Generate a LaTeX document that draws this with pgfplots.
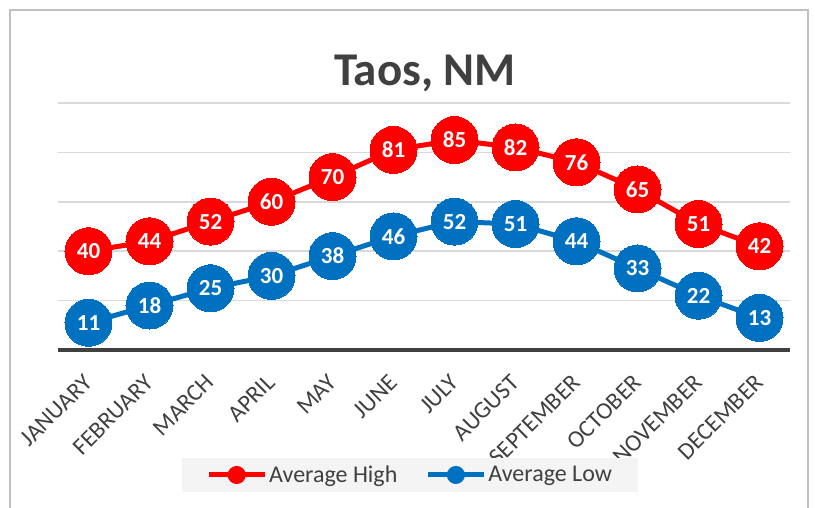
\documentclass[border=0pt]{standalone}
\usepackage{fontspec}
\setmainfont{Carlito}
\usepackage{pgfplots}
\pgfplotsset{compat=1.18}
\definecolor{hi}{HTML}{FF0000}
\definecolor{lo}{HTML}{0070C0}
\definecolor{txt}{HTML}{404040}
\definecolor{grd}{HTML}{D9D9D9}
\definecolor{frm}{HTML}{BFBFBF}
\definecolor{legbg}{HTML}{F4F4F4}
\begin{document}
\begin{tikzpicture}[x=1pt,y=1pt]
\path[use as bounding box] (0,0) rectangle (815,508);
\draw[frm, line width=2pt] (10,-2) -- (10,498) -- (808,498) -- (808,-2);
\node[font=\fontsize{47}{50}\selectfont\bfseries, text=txt] at (425,435) {Taos, NM};
\begin{axis}[
  at={(58pt,158pt)}, anchor=south west,
  scale only axis, width=732pt, height=247pt,
  xmin=-0.5, xmax=11.5, ymin=0, ymax=100,
  clip=false,
  /pgf/number format/assume math mode=true,
  axis line style={draw=none},
  major tick length=0pt,
  xtick={0,...,11},
  xticklabels={JANUARY,FEBRUARY,MARCH,APRIL,MAY,JUNE,JULY,AUGUST,SEPTEMBER,OCTOBER,NOVEMBER,DECEMBER},
  xticklabel style={xshift=-6pt, yshift=-23pt, rotate=45, anchor=north east, inner sep=0pt, font=\fontsize{24}{28}\selectfont, text=txt},
  ytick={20,40,60,80,100}, yticklabels={},
  ymajorgrids, major grid style={draw=grd, line width=1.5pt},
  extra y ticks={0}, extra y tick labels={},
  extra y tick style={grid=major, major grid style={draw=txt, line width=3.5pt}},
  every node near coord/.append style={anchor=center, text=white, font=\fontsize{23}{26}\selectfont\bfseries},
  legend columns=2,
  legend style={at={(axis description cs:0.481,-0.506)}, anchor=center, fill=legbg, draw=none,
    font=\fontsize{24}{28}\selectfont, text=txt, inner xsep=24pt, inner ysep=6pt,
    /tikz/every even column/.append style={column sep=26pt}},
  legend image code/.code={\draw[line width=5pt] (0pt,0pt) -- (56pt,0pt); \fill (28pt,0pt) circle (6.5pt);},
]
\addplot[hi, line width=5pt, mark=*, mark size=23.5pt, mark options={fill=hi, draw=hi, line width=0pt}, nodes near coords]
  coordinates {(0,40)(1,44)(2,52)(3,60)(4,70)(5,81)(6,85)(7,82)(8,76)(9,65)(10,51)(11,42)};
\addlegendentry{Average High}
\addplot[lo, line width=5pt, mark=*, mark size=23.5pt, mark options={fill=lo, draw=lo, line width=0pt}, nodes near coords]
  coordinates {(0,11)(1,18)(2,25)(3,30)(4,38)(5,46)(6,52)(7,51)(8,44)(9,33)(10,22)(11,13)};
\addlegendentry{Average Low}
\end{axis}
\end{tikzpicture}
\end{document}
